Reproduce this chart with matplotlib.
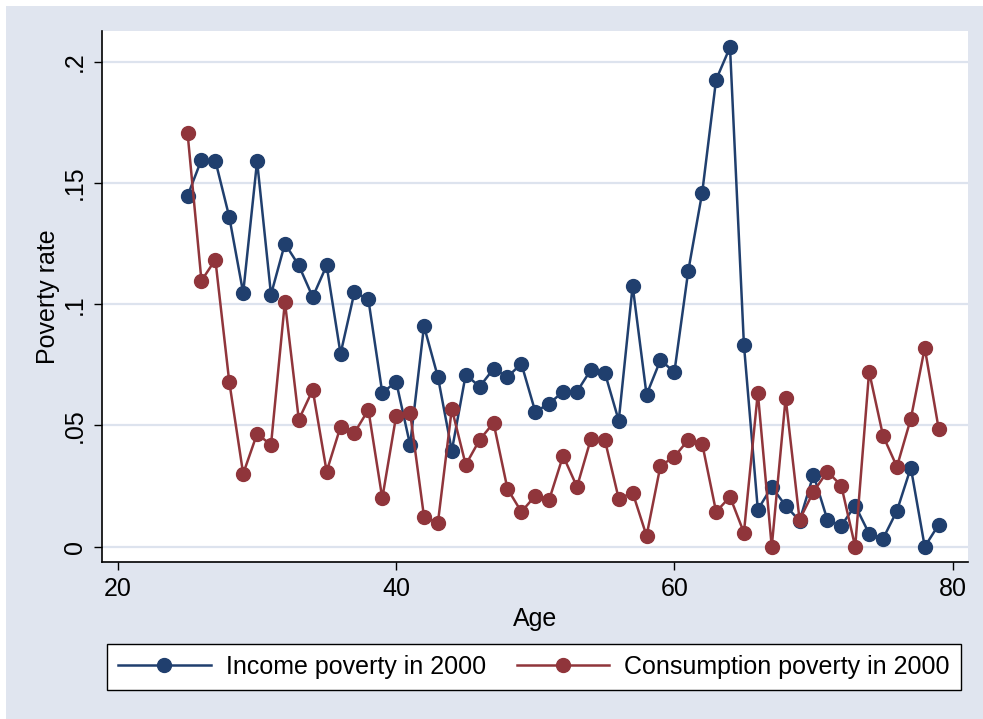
import numpy as np
import matplotlib
matplotlib.use('Agg')
import matplotlib.pyplot as plt
from matplotlib.patches import Rectangle

# ============================================================
# DATA
# ============================================================
age = list(range(25, 80))

income_poverty = [
    0.1447, 0.1596, 0.1592, 0.1360, 0.1047, 0.1590, 0.1040, 0.1250, 0.1160, 0.1030,
    0.1160, 0.0796, 0.1050, 0.1020, 0.0635, 0.0680, 0.0420, 0.0910, 0.0700, 0.0396,
    0.0710, 0.0660, 0.0734, 0.0700, 0.0755, 0.0557, 0.0590, 0.0640, 0.0640, 0.0730,
    0.0718, 0.0520, 0.1076, 0.0627, 0.0770, 0.0720, 0.1138, 0.1460, 0.1926, 0.2060,
    0.0833, 0.0153, 0.0247, 0.0169, 0.0107, 0.0297, 0.0111, 0.0087, 0.0170, 0.0054,
    0.0033, 0.0148, 0.0326, 0.0000, 0.0091,
]

consumption_poverty = [
    0.1707, 0.1097, 0.1184, 0.0680, 0.0301, 0.0466, 0.0420, 0.1010, 0.0524, 0.0647,
    0.0310, 0.0495, 0.0470, 0.0565, 0.0200, 0.0540, 0.0553, 0.0124, 0.0099, 0.0569,
    0.0338, 0.0441, 0.0511, 0.0239, 0.0144, 0.0210, 0.0194, 0.0375, 0.0247, 0.0445,
    0.0441, 0.0198, 0.0223, 0.0045, 0.0334, 0.0371, 0.0441, 0.0425, 0.0144, 0.0206,
    0.0058, 0.0635, 0.0000, 0.0614, 0.0111, 0.0227, 0.0310, 0.0252, 0.0000, 0.0722,
    0.0458, 0.0330, 0.0528, 0.0820, 0.0487,
]

series_labels = ['Income poverty in 2000', 'Consumption poverty in 2000']

x_ticks = [20, 40, 60, 80]
y_ticks = [0, 0.05, 0.1, 0.15, 0.2]
y_ticklabels = ['0', '.05', '.1', '.15', '.2']

# ============================================================
# STYLE
# ============================================================
navy = '#203f6e'
maroon = '#90353b'
bg = '#e0e5ef'
grid_col = '#dde3ee'

plt.rcParams['font.family'] = ['Liberation Sans', 'DejaVu Sans']
plt.rcParams['font.size'] = 18

fig = plt.figure(figsize=(9.83, 7.19), dpi=100, facecolor='white')
# light bluish graph region (thin white strip at top/left as in the reference)
fig.patches.append(Rectangle((6 / 983, 0), 1, 1 - 6 / 719,
                             transform=fig.transFigure, facecolor=bg,
                             edgecolor='none', zorder=-10))

ax = fig.add_axes([102 / 983, 1 - 562 / 719, 866 / 983, 531 / 719])
ax.set_facecolor('white')

ax.plot(age, income_poverty, color=navy, lw=1.8, marker='o', ms=10,
        label=series_labels[0], zorder=3)
ax.plot(age, consumption_poverty, color=maroon, lw=1.8, marker='o', ms=10,
        label=series_labels[1], zorder=3)

ax.set_xlim(18.85, 81.11)
ax.set_ylim(-0.0063, 0.2127)

ax.set_xticks(x_ticks)
ax.set_yticks(y_ticks)
ax.set_yticklabels(y_ticklabels, rotation=90, va='center')
ax.tick_params(axis='both', direction='out', length=6, width=1, colors='black',
               labelsize=18, pad=5)

ax.grid(axis='y', color=grid_col, lw=1.6, zorder=0)
ax.set_axisbelow(True)

for side in ['top', 'right']:
    ax.spines[side].set_visible(False)
for side in ['left', 'bottom']:
    ax.spines[side].set_color('black')
    ax.spines[side].set_linewidth(1.2)

ax.set_xlabel('Age', fontsize=18, labelpad=4)
ax.set_ylabel('Poverty rate', fontsize=18, labelpad=2)

leg = fig.legend(loc='center', bbox_to_anchor=(534 / 983, 1 - 667 / 719),
                 ncol=2, frameon=True, fancybox=False, fontsize=18,
                 handlelength=3.7, handletextpad=0.6, columnspacing=1.25,
                 borderpad=0.45, borderaxespad=0, framealpha=1)
leg.get_frame().set_edgecolor('black')
leg.get_frame().set_linewidth(1.0)
leg.get_frame().set_facecolor('white')

plt.savefig('out.png', dpi=100, facecolor=fig.get_facecolor())
